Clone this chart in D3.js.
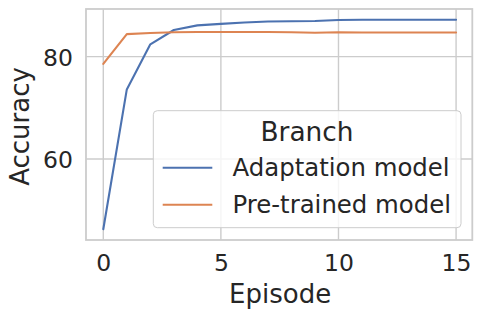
<!DOCTYPE html>
<html>
<head>
<meta charset="utf-8">
<script src="https://cdn.jsdelivr.net/npm/d3@7"></script>
<style>
    body { margin: 0; background: #fff; }
    svg { display: block; font-family: "DejaVu Sans", sans-serif; }
</style>
</head>
<body>
<div id="chart"></div>
<script>
    // data
    const episodes = d3.range(0, 16);
    const adaptation = [46.3, 73.6, 82.4, 85.2, 86.1, 86.4, 86.65, 86.85, 86.9, 86.95, 87.15, 87.2, 87.2, 87.2, 87.2, 87.2];
    const pretrained = [78.6, 84.4, 84.6, 84.75, 84.8, 84.8, 84.8, 84.8, 84.75, 84.65, 84.75, 84.72, 84.7, 84.7, 84.7, 84.7];
    const seriesNames = ["Adaptation model", "Pre-trained model"];
    const seriesColors = ["#4c72b0", "#dd8452"];
    const xTicks = [0, 5, 10, 15];
    const yTicks = [60, 80];

    const width = 483, height = 319;
    const plot = { left: 86, right: 472.3, top: 9, bottom: 240 };
    const textColor = "#262626";
    const gridColor = "#cccccc";

    const svg = d3.select("#chart")
        .append("svg")
        .attr("width", width)
        .attr("height", height);

    const x = d3.scaleLinear()
        .domain([-0.735, 15.69])
        .range([plot.left, plot.right]);

    const y = d3.scaleLinear()
        .domain([44.2, 89.3])
        .range([plot.bottom, plot.top]);

    // grid
    const grid = svg.append("g");
    grid.selectAll("line.vx")
        .data(xTicks)
        .join("line")
        .attr("class", "vx")
        .attr("x1", d => x(d)).attr("x2", d => x(d))
        .attr("y1", plot.top).attr("y2", plot.bottom)
        .attr("stroke", gridColor)
        .attr("stroke-width", 1.4);
    grid.selectAll("line.hy")
        .data(yTicks)
        .join("line")
        .attr("class", "hy")
        .attr("x1", plot.left).attr("x2", plot.right)
        .attr("y1", d => y(d)).attr("y2", d => y(d))
        .attr("stroke", gridColor)
        .attr("stroke-width", 1.4);

    // frame
    svg.append("rect")
        .attr("x", plot.left)
        .attr("y", plot.top)
        .attr("width", plot.right - plot.left)
        .attr("height", plot.bottom - plot.top)
        .attr("fill", "none")
        .attr("stroke", gridColor)
        .attr("stroke-width", 1.8);

    // axes (tick text only, seaborn style)
    const xAxis = svg.append("g")
        .attr("transform", `translate(0,${plot.bottom})`)
        .call(d3.axisBottom(x).tickValues(xTicks).tickSize(0).tickPadding(14));
    const yAxis = svg.append("g")
        .attr("transform", `translate(${plot.left},0)`)
        .call(d3.axisLeft(y).tickValues(yTicks).tickSize(0).tickPadding(13));
    [xAxis, yAxis].forEach(a => {
        a.select(".domain").remove();
        a.selectAll("text")
            .attr("fill", textColor)
            .attr("font-size", 23.5)
            .attr("font-family", "DejaVu Sans");
    });
    yAxis.selectAll("text").attr("dy", "0.36em");

    // lines
    const lineGen = d3.line()
        .x((d, i) => x(episodes[i]))
        .y(d => y(d));

    svg.append("g")
        .selectAll("path")
        .data([adaptation, pretrained])
        .join("path")
        .attr("d", lineGen)
        .attr("fill", "none")
        .attr("stroke", (d, i) => seriesColors[i])
        .attr("stroke-width", 2.1)
        .attr("stroke-linejoin", "round")
        .attr("stroke-linecap", "round");

    // axis labels
    svg.append("text")
        .attr("x", (plot.left + plot.right) / 2 + 1)
        .attr("y", 303)
        .attr("text-anchor", "middle")
        .attr("fill", textColor)
        .attr("font-size", 26)
        .text("Episode");

    svg.append("text")
        .attr("transform", `translate(29,${(plot.top + plot.bottom) / 2 + 2}) rotate(-90)`)
        .attr("text-anchor", "middle")
        .attr("fill", textColor)
        .attr("font-size", 26)
        .text("Accuracy");

    // legend
    const legend = svg.append("g");
    legend.append("rect")
        .attr("x", 153.3).attr("y", 110.7)
        .attr("width", 307.7).attr("height", 117)
        .attr("rx", 4)
        .attr("fill", "#fff")
        .attr("fill-opacity", 0.8)
        .attr("stroke", gridColor)
        .attr("stroke-width", 1);

    legend.append("text")
        .attr("x", 307)
        .attr("y", 141)
        .attr("text-anchor", "middle")
        .attr("fill", textColor)
        .attr("font-size", 26.4)
        .text("Branch");

    const items = legend.selectAll("g.item")
        .data(seriesNames)
        .join("g")
        .attr("class", "item")
        .attr("transform", (d, i) => `translate(0,${167.7 + i * 37})`);
    items.append("line")
        .attr("x1", 162.7).attr("x2", 212.3)
        .attr("stroke", (d, i) => seriesColors[i])
        .attr("stroke-width", 2.1);
    items.append("text")
        .attr("x", 232.5)
        .attr("dy", "0.36em")
        .attr("fill", textColor)
        .attr("font-size", 24.4)
        .text(d => d);
</script>
</body>
</html>
